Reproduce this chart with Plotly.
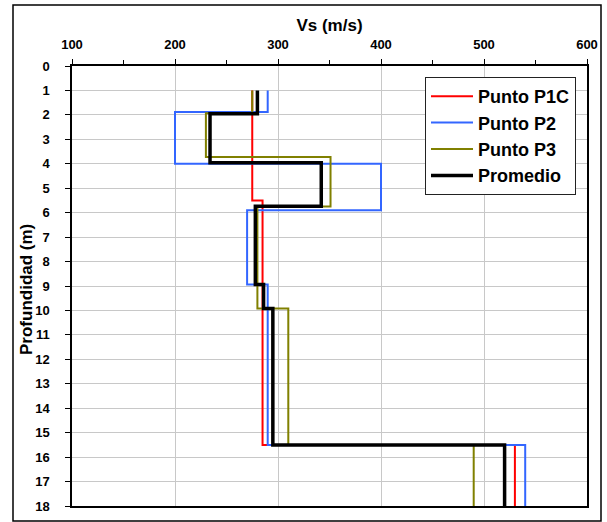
import plotly.graph_objects as go

# ---- data ----
bottom_depth = 18

p1c_tops = [1, 5.5, 15.5]
p1c_vs = [275, 285, 530]

p2_tops = [1, 1.88, 4.0, 5.9, 8.94, 15.5]
p2_vs = [290, 200, 400, 270, 290, 540]

p3_tops = [1, 1.93, 3.72, 5.75, 9.92, 15.5]
p3_vs = [275, 230, 351, 280, 310, 490]

prom_tops = [1, 1.95, 3.96, 5.74, 8.94, 9.92, 15.5]
prom_vs = [280, 234, 342, 278, 286, 295, 520]

x_ticks = [100, 200, 300, 400, 500, 600]
y_ticks = list(range(0, 19))

FONT = "Liberation Sans, Arial, sans-serif"


def profile(tops, vs):
    # step profile: value vs holds from its top depth to the next top
    return list(vs) + [vs[-1]], list(tops) + [bottom_depth]


series = [
    ("Punto P1C", p1c_tops, p1c_vs, "#FF0000", 2),
    ("Punto P2", p2_tops, p2_vs, "#3366FF", 2),
    ("Punto P3", p3_tops, p3_vs, "#808000", 2),
    ("Promedio", prom_tops, prom_vs, "#000000", 3.5),
]

fig = go.Figure()
for name, tops, vs, color, w in series:
    x, y = profile(tops, vs)
    fig.add_trace(go.Scatter(
        x=x, y=y, mode="lines", name=name, legendgroup=name,
        line=dict(color=color, width=w, shape="vh"),
    ))

W, H = 607, 522
ml, mr, mt, mb = 72, 20, 66, 16
pw, ph = W - ml - mr, H - mt - mb

fig.update_layout(
    width=W, height=H,
    margin=dict(l=ml, r=mr, t=mt, b=mb, autoexpand=False),
    paper_bgcolor="white", plot_bgcolor="white",
    font=dict(family=FONT, color="black"),
    showlegend=True,
    legend=dict(
        x=(425 - ml) / pw, y=(H - mb - 77) / ph, xanchor="left", yanchor="top",
        bgcolor="white", bordercolor="#222222", borderwidth=1,
        font=dict(family=FONT, size=18, weight="bold", color="black"),
        tracegroupgap=0, itemwidth=42,
    ),
    xaxis=dict(
        side="top", range=[100, 600], tickvals=x_ticks, automargin=False,
        ticks="outside", ticklen=5, tickcolor="black", tickwidth=1,
        minor=dict(dtick=50, ticks="outside", ticklen=4, tickcolor="black", showgrid=False),
        showgrid=True, gridcolor="#C8C8C8", gridwidth=1,
        showline=True, linecolor="black", linewidth=1.5, mirror=True,
        zeroline=False,
        tickfont=dict(family=FONT, size=13, weight="bold"),
        ticklabelstandoff=5,
        title=dict(text="Vs (m/s)", font=dict(family=FONT, size=17, weight="bold"), standoff=1),
    ),
    yaxis=dict(
        range=[18, 0], tickvals=y_ticks, automargin=False,
        ticks="outside", ticklen=5, tickcolor="black", tickwidth=1,
        showgrid=True, gridcolor="#C8C8C8", gridwidth=1,
        showline=True, linecolor="black", linewidth=1.5, mirror=True,
        zeroline=False,
        tickfont=dict(family=FONT, size=13, weight="bold"),
        ticklabelstandoff=13,
    ),
    annotations=[dict(
        text="Profundidad (m)", textangle=-90, showarrow=False,
        xref="paper", yref="paper", x=(26 - ml) / pw, y=(H - mb - 290) / ph,
        xanchor="center", yanchor="middle",
        font=dict(family=FONT, size=17, weight="bold", color="black"),
    )],
    shapes=[dict(
        type="rect", xref="paper", yref="paper",
        x0=(13 - ml) / pw, x1=(601 - ml) / pw,
        y0=-(521 - (H - mb)) / ph, y1=((H - mb) - 5) / ph,
        line=dict(color="black", width=1.5), fillcolor="rgba(0,0,0,0)", layer="below",
    )],
)

fig.write_html(
    "out.html",
    config={"displayModeBar": False},
    post_script="document.body.style.margin='0px';document.body.style.overflow='hidden';",
)
